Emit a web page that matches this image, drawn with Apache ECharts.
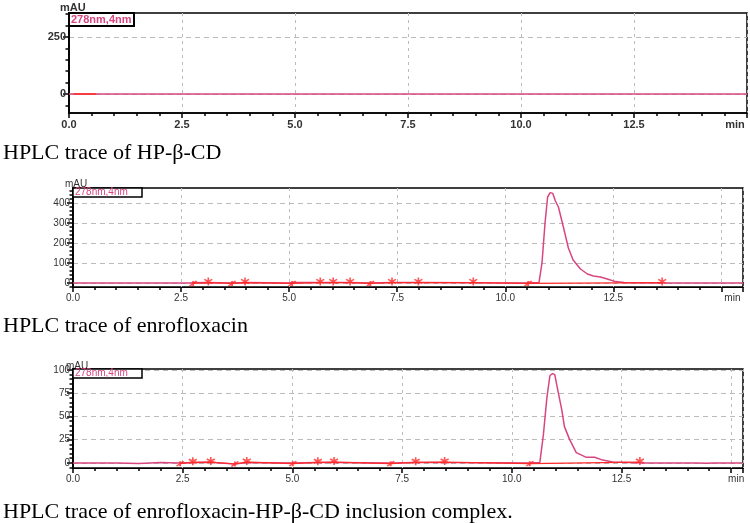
<!DOCTYPE html>
<html><head><meta charset="utf-8">
<script src="https://cdn.jsdelivr.net/npm/echarts@6/dist/echarts.min.js"></script>
<style>html,body{margin:0;padding:0;background:#fff}#c{width:750px;height:523px}</style>
</head><body><div id="c"></div>
<script>
// ---- Panel 1: HP-β-CD ----
const topTime = [0, 15];
const topVal = [0, 0];
const topRedTime = [0.1, 0.6];
const topRedVal = [0, 0];
const topYLabels = [0, 250];
const topYMinor = [-50, 0, 50, 100, 150, 200, 250, 300, 350];

// ---- Panel 2: enrofloxacin ----
const midTime = [0, 2.0, 2.7, 2.8, 3.1, 3.7, 4.0, 5.0, 5.1, 5.6, 6.0, 6.4, 6.9, 7.4, 8.0, 9.3, 10.5, 10.78, 10.85, 10.92, 10.98, 11.04, 11.1, 11.16, 11.23, 11.35, 11.46, 11.57, 11.74, 11.9, 12.04, 12.2, 12.36, 12.55, 12.75, 13.0, 13.6, 15.5];
const midVal  = [0, 0, 0, 1, 2, 0, 2, 0, 3, 3, 3, 2, 0, 3, 3, 1, 0, 2, 100, 300, 430, 452, 448, 410, 380, 275, 175, 115, 70, 45, 35, 30, 20, 7, 3, 1, 0, 0];
const midRedTime = [2.78, 3.13, 3.68, 3.98, 5.07, 5.72, 6.02, 6.41, 6.88, 7.38, 7.99, 9.26, 10.53, 13.63];
const midRedVal  = [-2, 2, -2, 2, -2, 2, 2, 2, -2, 2, 2, 2, -2, 2];
const midStarTime = [3.13, 3.98, 5.72, 6.02, 6.41, 7.38, 7.99, 9.26, 13.63];
const midStartTime = [2.78, 3.68, 5.07, 6.88, 10.53];
const midYLabels = [0, 100, 200, 300, 400];
const midYMinor = [-20, 0, 20, 40, 60, 80, 100, 120, 140, 160, 180, 200, 220, 240, 260, 280, 300, 320, 340, 360, 380, 400, 420, 440, 460];

// ---- Panel 3: inclusion complex ----
const botTime = [0, 1.0, 1.5, 2.0, 2.4, 2.73, 3.14, 3.69, 3.96, 5.01, 5.58, 5.95, 7.24, 7.81, 8.47, 10.41, 10.64, 10.72, 10.8, 10.87, 10.93, 10.98, 11.05, 11.14, 11.2, 11.32, 11.47, 11.7, 11.89, 12.07, 12.3, 13.0, 14.2, 14.45, 14.6, 15.25];
const botVal  = [0, 0, -0.7, 0.3, 0, 0.5, 0.8, -1.2, 0.5, 0, 0.5, 0.5, 0, 0.5, 0.3, 0, 0.5, 30, 70, 94, 96, 95, 78, 57, 39, 25, 11, 6, 6, 3, 1, 0, 0, -0.5, 0, 0];
const botRedTime = [2.44, 2.73, 3.14, 3.69, 3.96, 5.01, 5.58, 5.95, 7.24, 7.81, 8.47, 10.41, 12.92];
const botRedVal  = [-0.8, 0.5, 0.8, -1.2, 0.8, -0.8, 0.5, 0.8, -0.8, 0.5, 0.8, -0.8, 0.8];
const botStarTime = [2.73, 3.14, 3.96, 5.58, 5.95, 7.81, 8.47, 12.92];
const botStartTime = [2.44, 3.69, 5.01, 7.24, 10.41];
const botYLabels = [0, 25, 50, 75, 100];
const botYMinor = [-5, 0, 5, 10, 15, 20, 25, 30, 35, 40, 45, 50, 55, 60, 65, 70, 75, 80, 85, 90, 95, 100];

const captions = ['HPLC trace of HP-β-CD', 'HPLC trace of enrofloxacin', 'HPLC trace of enrofloxacin-HP-β-CD inclusion complex.'];
const legendText = '278nm,4nm';

const zip = (a, b) => a.map((v, i) => [v, b[i]]);
const near = (t, times, vals) => {
  const i = times.indexOf(t); return i >= 0 ? vals[i] : 0;
};

const PINK = '#d8457f', RED = '#ff2a2a';
const starPath = 'path://M0,-6L0,6M-5.2,-3L5.2,3M-5.2,3L5.2,-3';
const startPath = 'path://M-5,3L5,-3M0,-3L0,3';

const grids = [
  {left: 69, top: 13, width: 678, height: 100},
  {left: 73, top: 188, width: 670, height: 99},
  {left: 73, top: 369, width: 670, height: 99}
];
const yRanges = [[-83, 355], [-20, 475], [-5.5, 101]];
const xMax = [15, 15.5, 15.27];
const yLab = [topYLabels, midYLabels, botYLabels];
const yMin = [topYMinor, midYMinor, botYMinor];
const minPad = [[0, 24, 0, 0], [0, 0, 0, 22], [0, 0, 0, 10]];

const xAxis = grids.map((g, k) => ({
  type: 'value', gridIndex: k, min: 0, max: xMax[k], interval: 2.5,
  axisLine: {show: true, onZero: false, lineStyle: {color: '#000', width: k === 0 ? 1.5 : 1.2}},
  axisTick: {show: true, length: 5, lineStyle: {color: '#000', width: 1.5}},
  minorTick: {show: true, splitNumber: 5, length: 3, lineStyle: {color: '#000', width: 1.5}},
  splitLine: {show: true, lineStyle: {color: '#bbb', type: [3, 4], width: 1}},
  axisLabel: {
    color: '#333', fontSize: k === 0 ? 11 : 10, fontWeight: k === 0 ? 'bold' : 'normal', fontFamily: 'Liberation Sans',
    margin: 6,
    formatter: v => (Math.abs(v - 15) < 1e-6 ? '{m|min}' : (Math.abs(v / 2.5 - Math.round(v / 2.5)) < 1e-6 ? v.toFixed(1) : '')),
    rich: {m: {padding: minPad[k], color: '#333', fontSize: k === 0 ? 11 : 10, fontWeight: k === 0 ? 'bold' : 'normal', fontFamily: 'Liberation Sans'}}
  }
}));

const yAxis = [];
grids.forEach((g, k) => {
  yAxis.push({
    type: 'value', gridIndex: k, min: yRanges[k][0], max: yRanges[k][1], position: 'left',
    axisLine: {show: true, onZero: false, lineStyle: {color: '#000', width: 1.5}},
    axisTick: {show: true, length: 6, customValues: yLab[k], lineStyle: {color: '#000', width: 1.5}},
    axisLabel: {customValues: yLab[k], color: '#333', fontSize: k === 0 ? 11 : 10, fontWeight: k === 0 ? 'bold' : 'normal', fontFamily: 'Liberation Sans', margin: 3},
    splitLine: {show: true, lineStyle: {color: '#bbb', type: [5, 4], width: 1}}
  });
  // minor-tick axis: the second axis of a grid goes to the right, so shift it back to the left edge
  yAxis.push({
    type: 'value', gridIndex: k, min: yRanges[k][0], max: yRanges[k][1], position: 'right', offset: -g.width,
    axisLine: {show: true, onZero: false, lineStyle: {color: '#000', width: 1.5}},
    axisTick: {show: true, inside: true, length: 3.5, customValues: yMin[k], lineStyle: {color: '#000', width: 1.5}},
    axisLabel: {show: true, customValues: yMin[k], formatter: () => '', color: 'transparent'},
    splitLine: {show: false}
  });
});

const lineS = (k, data, color, w) => ({
  type: 'line', xAxisIndex: k, yAxisIndex: 2 * k, data, showSymbol: false, symbol: 'none',
  lineStyle: {color, width: w}, silent: true, animation: false, z: 3
});
const markS = (k, data, sym, size) => ({
  type: 'scatter', xAxisIndex: k, yAxisIndex: 2 * k, data, symbol: sym, symbolSize: size,
  itemStyle: {color: 'none', borderColor: RED, borderWidth: 1.6}, silent: true, animation: false, z: 5
});

const series = [
  lineS(0, zip(topTime, topVal), PINK, 1.6),
  lineS(0, zip(topRedTime, topRedVal), RED, 1.6),
  lineS(1, zip(midTime, midVal), PINK, 1.5),
  lineS(1, zip(midRedTime, midRedVal), RED, 1.2),
  markS(1, midStarTime.map(t => [t, near(t, midRedTime, midRedVal) + 6]), starPath, [8, 8]),
  markS(1, midStartTime.map(t => [t, near(t, midRedTime, midRedVal)]), startPath, [7, 5]),
  lineS(2, zip(botTime, botVal), PINK, 1.5),
  lineS(2, zip(botRedTime, botRedVal), RED, 1.2),
  markS(2, botStarTime.map(t => [t, near(t, botRedTime, botRedVal) + 1.2]), starPath, [8, 8]),
  markS(2, botStartTime.map(t => [t, near(t, botRedTime, botRedVal)]), startPath, [7, 5])
];

const mauPos = [[60, 2], [65, 179], [66, 361]];
const legBox = [[69, 13, 65, 13, 11, true], [73, 188, 69, 9, 10, false], [73, 369, 69, 9, 10, false]];
const capY = [142, 315, 501];
const graphic = [];
mauPos.forEach((p, k) => graphic.push({type: 'text', left: p[0], top: p[1], z: 10,
  style: {text: 'mAU', fill: '#333', font: (k === 0 ? 'bold 11px' : '10px') + ' Liberation Sans'}}));
legBox.forEach((b, k) => {
  graphic.push({type: 'rect', shape: {x: b[0], y: b[1], width: b[2], height: b[3]}, z: 10,
    style: {fill: '#fff', stroke: '#000', lineWidth: k === 0 ? 2 : 1.5}});
  graphic.push({type: 'text', x: b[0] + 2, y: b[1] + b[3] / 2, z: 11,
    style: {text: legendText, fill: PINK, font: (b[5] ? 'bold ' : '') + b[4] + 'px Liberation Sans', verticalAlign: 'middle'}});
});
captions.forEach((c, k) => graphic.push({type: 'text', left: 3, top: capY[k], z: 10,
  style: {text: c, fill: '#000', font: '22px Liberation Serif'}}));

const chart = echarts.init(document.getElementById('c'), null, {renderer: 'canvas'});
chart.setOption({
  animation: false,
  backgroundColor: '#fff',
  grid: grids.map(g => Object.assign({show: true, borderColor: '#000', borderWidth: 1.5, backgroundColor: 'transparent', containLabel: false}, g)),
  xAxis, yAxis, series, graphic
});
</script></body></html>
